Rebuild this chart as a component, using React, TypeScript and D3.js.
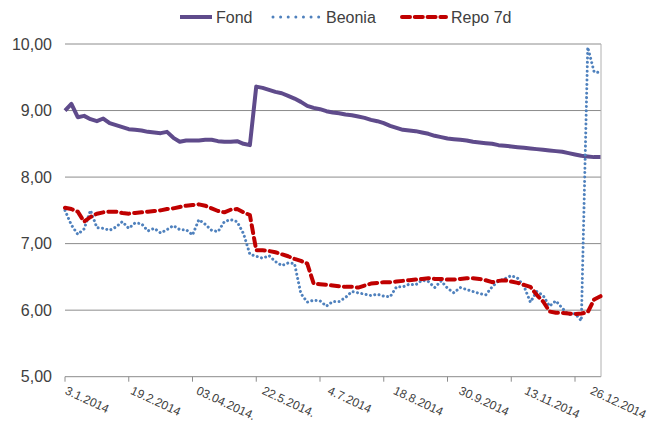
import React from 'react'
import * as d3 from 'd3'

// one sample every ~3 business days through 2014
const fond = [
  9.0, 9.1, 8.9, 8.92, 8.87, 8.84, 8.88, 8.81, 8.78, 8.75,
  8.72, 8.71, 8.7, 8.68, 8.67, 8.66, 8.68, 8.59, 8.53, 8.55,
  8.55, 8.55, 8.56, 8.56, 8.54, 8.53, 8.53, 8.54, 8.5, 8.48,
  9.36, 9.34, 9.31, 9.28, 9.26, 9.22, 9.18, 9.13, 9.07, 9.04,
  9.02, 8.99, 8.97, 8.96, 8.94, 8.93, 8.91, 8.89, 8.86, 8.84,
  8.81, 8.77, 8.74, 8.71, 8.7, 8.69, 8.67, 8.65, 8.62, 8.6,
  8.58, 8.57, 8.56, 8.55, 8.53, 8.52, 8.51, 8.5, 8.48, 8.47,
  8.46, 8.45, 8.44, 8.43, 8.42, 8.41, 8.4, 8.39, 8.38, 8.36,
  8.34, 8.32, 8.31, 8.3, 8.3,
]

const beonia = [
  7.5, 7.28, 7.14, 7.22, 7.5, 7.24, 7.23, 7.2, 7.25, 7.33,
  7.23, 7.31, 7.3, 7.19, 7.23, 7.16, 7.21, 7.27, 7.21, 7.21,
  7.13, 7.36, 7.29, 7.2, 7.18, 7.33, 7.36, 7.33, 7.15, 6.84,
  6.81, 6.78, 6.82, 6.73, 6.67, 6.71, 6.7, 6.25, 6.12, 6.15,
  6.14, 6.06, 6.13, 6.13, 6.19, 6.28, 6.26, 6.24, 6.22, 6.24,
  6.21, 6.2, 6.35, 6.35, 6.39, 6.38, 6.45, 6.43, 6.34, 6.44,
  6.33, 6.26, 6.34, 6.31, 6.28, 6.25, 6.23, 6.35, 6.44, 6.47,
  6.52, 6.48, 6.36, 6.12, 6.28, 6.22, 6.06, 6.14, 6.03, 5.93,
  5.95, 5.84, 9.95, 9.58, 9.57,
]

const repo = [
  7.54, 7.52, 7.48, 7.33, 7.4, 7.45, 7.47, 7.48, 7.48, 7.46,
  7.45, 7.46, 7.47, 7.48, 7.49, 7.5, 7.52, 7.53, 7.55, 7.57,
  7.58, 7.59, 7.57, 7.53, 7.49, 7.47, 7.51, 7.52, 7.47, 7.43,
  6.9, 6.9, 6.89, 6.87, 6.84, 6.81, 6.77, 6.74, 6.7, 6.4,
  6.39, 6.38, 6.37, 6.36, 6.35, 6.35, 6.34, 6.37, 6.4, 6.41,
  6.42, 6.42, 6.43, 6.44, 6.45, 6.46, 6.47, 6.48, 6.47, 6.47,
  6.46, 6.46, 6.47, 6.48, 6.48, 6.47, 6.45, 6.42, 6.44, 6.45,
  6.43, 6.41, 6.38, 6.35, 6.23, 6.13, 5.98, 5.96, 5.96, 5.95,
  5.94, 5.95, 5.97, 6.16, 6.21,
]

const tickLabels = [
  '3.1.2014', '19.2.2014', '03.04.2014.', '22.5.2014.', '4.7.2014',
  '18.8.2014', '30.9.2014', '13.11.2014', '26.12.2014',
]
const yTicks = [5, 6, 7, 8, 9, 10]

const FONT = '"Liberation Sans", Arial, sans-serif'
const TEXT = '#404040'
const GRID = '#8c8c8c'

export default function App() {
  const width = 648
  const height = 427
  const left = 65
  const right = 601
  const top = 44
  const bottom = 376.7

  const x = d3.scaleLinear().domain([0, 84]).range([left, 600.5])
  const y = d3.scaleLinear().domain([5, 10]).range([bottom, top])

  const line = d3
    .line<number>()
    .x((d, i) => x(i))
    .y((d) => y(d))

  const tickIdx = tickLabels.map((_, i) => i * 10)
  const fmt = (v: number) => v.toFixed(2).replace('.', ',')

  return (
    <div style={{position: 'fixed', left: 0, top: 0}}>
      <svg width={width} height={height} style={{display: 'block', background: '#fff'}}>
        {/* gridlines */}
        {yTicks.map((t) => (
          <line key={t} x1={left} x2={right} y1={y(t)} y2={y(t)} stroke={GRID} strokeWidth={1} />
        ))}
        <line x1={right} x2={right} y1={top} y2={bottom} stroke="#b0b0b0" strokeWidth={1} />

        {/* x axis ticks */}
        {tickIdx.map((t) => (
          <line key={t} x1={x(t)} x2={x(t)} y1={bottom} y2={bottom + 5} stroke={GRID} strokeWidth={1} />
        ))}

        {yTicks.map((t) => (
          <text
            key={t}
            x={52}
            y={y(t)}
            dy="0.35em"
            textAnchor="end"
            fontFamily={FONT}
            fontSize={16}
            fill={TEXT}
          >
            {fmt(t)}
          </text>
        ))}

        {/* rotated labels drift a little to the right, as excel places them */}
        {tickLabels.map((lab, i) => (
          <text
            key={lab}
            transform={`translate(${x(tickIdx[i]) + 1 + i * 1.9}, ${bottom + 13}) rotate(25)`}
            dy="0.35em"
            fontFamily={FONT}
            fontSize={12}
            fill={TEXT}
          >
            {lab}
          </text>
        ))}

        {/* series */}
        <path d={line(fond) || ''} fill="none" stroke="#5f4b8b" strokeWidth={4} strokeLinejoin="round" />
        <path
          d={line(beonia) || ''}
          fill="none"
          stroke="#4f81bd"
          strokeWidth={3}
          strokeDasharray="0.01 4.4"
          strokeLinecap="round"
        />
        <path
          d={line(repo) || ''}
          fill="none"
          stroke="#c00000"
          strokeWidth={4}
          strokeDasharray="8 5"
          strokeLinecap="round"
          strokeLinejoin="round"
        />

        {/* legend */}
        <g fontFamily={FONT} fontSize={16} fill={TEXT}>
          <line x1={180} x2={212} y1={17} y2={17} stroke="#5f4b8b" strokeWidth={4} />
          <text x={216} y={17} dy="0.35em">Fond</text>
          <line
            x1={273}
            x2={319}
            y1={17}
            y2={17}
            stroke="#4f81bd"
            strokeWidth={3}
            strokeDasharray="0.01 7.6"
            strokeLinecap="round"
          />
          <text x={326} y={17} dy="0.35em">Beonia</text>
          <line x1={402} x2={446} y1={17} y2={17} stroke="#c00000" strokeWidth={4} strokeDasharray="8 4.8" strokeLinecap="round" />
          <text x={451} y={17} dy="0.35em">Repo 7d</text>
        </g>
      </svg>
    </div>
  )
}
